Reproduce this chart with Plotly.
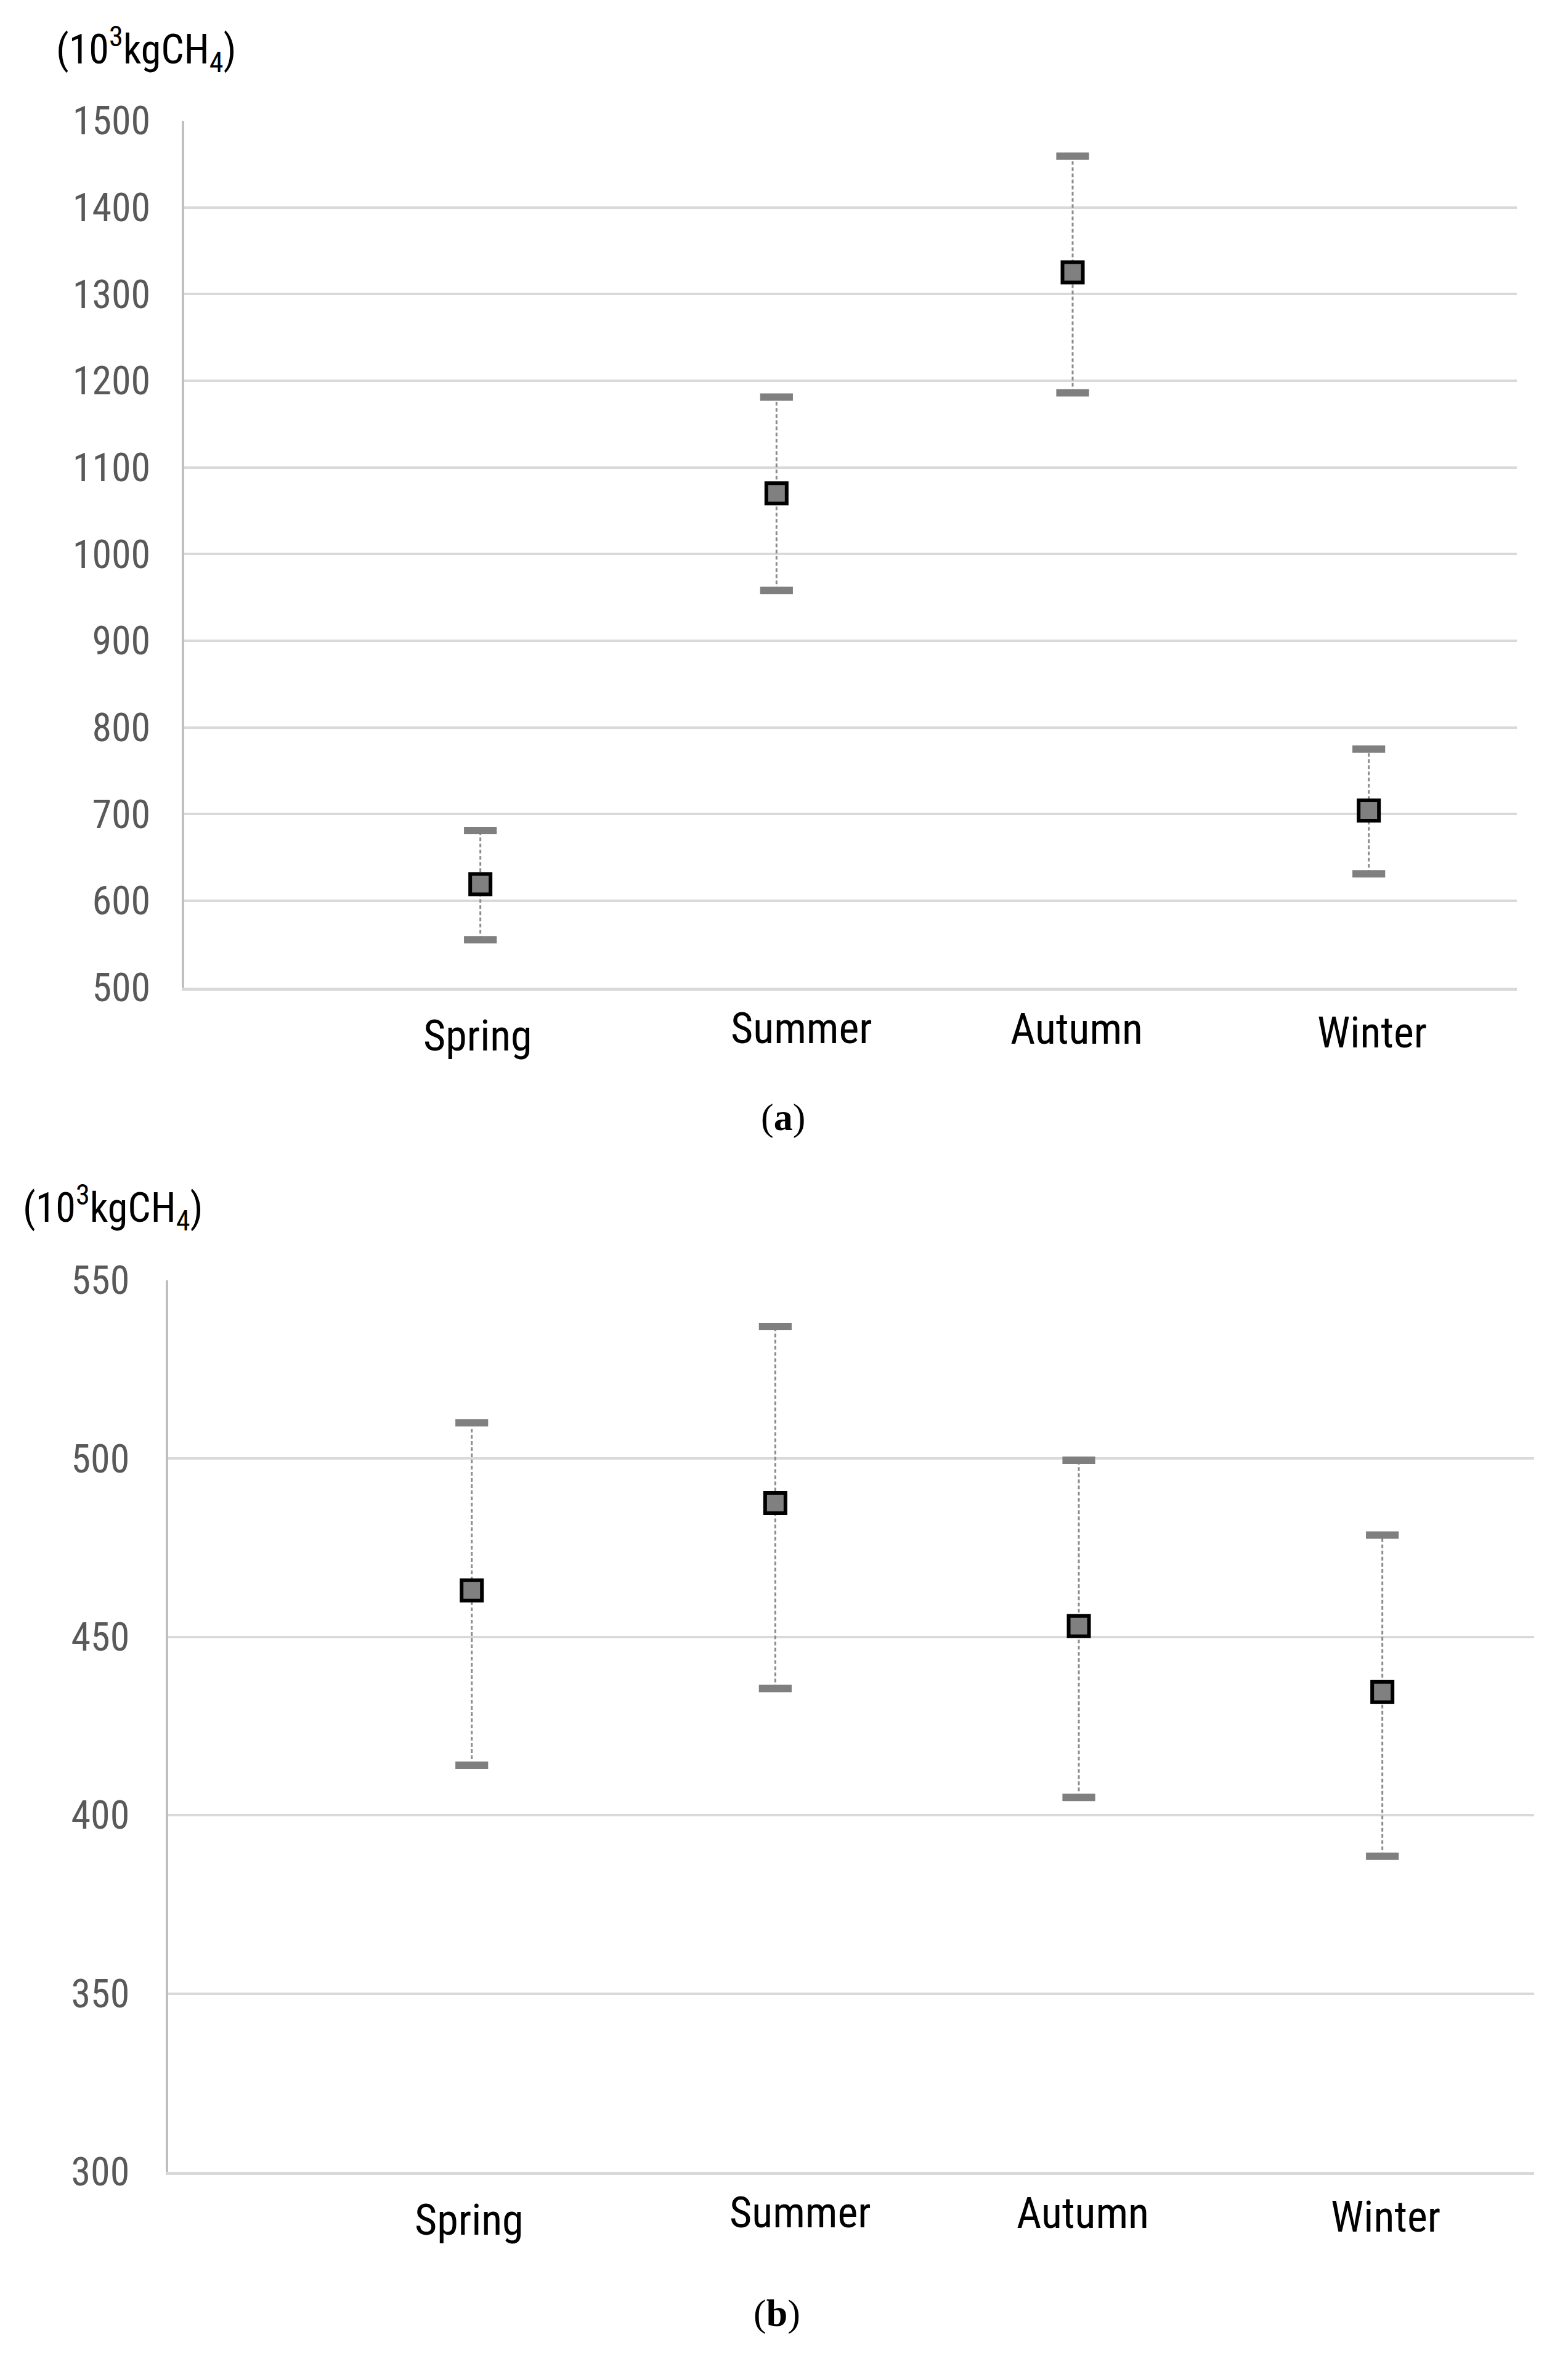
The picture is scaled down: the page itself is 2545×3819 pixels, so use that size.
import plotly.graph_objects as go

# ---------------- data ----------------
categories = ["Spring", "Summer", "Autumn", "Winter"]

a_mean = [619, 1070, 1325, 704]
a_upper = [681, 1181, 1459, 775]
a_lower = [555, 958, 1186, 631]

b_mean = [463, 487.5, 453, 434.5]
b_upper = [510, 537, 499.5, 478.5]
b_lower = [414, 435.5, 405, 388.5]

a_ticks = [500, 600, 700, 800, 900, 1000, 1100, 1200, 1300, 1400, 1500]
b_ticks = [300, 350, 400, 450, 500, 550]

unit_label = "(10<sup>3</sup>kgCH<sub>4</sub>)"
panel_labels = ["(<b>a</b>)", "(<b>b</b>)"]

# ---------------- style ----------------
W, H = 2545, 3819
NARROW = "Liberation Sans Narrow, Arial Narrow, Roboto Condensed, Liberation Sans, sans-serif"
SERIF = "Liberation Serif, Times New Roman, serif"
GRID = "#d9d9d9"
AXIS = "#bfbfbf"
ERR = "#8c8c8c"
CAP = "#7f7f7f"

fig = go.Figure()


def add_panel(mean, upper, lower, xa, ya):
    ex, ey = [], []
    for c, lo, hi in zip(categories, lower, upper):
        ex += [c, c, None]
        ey += [lo, hi, None]
    fig.add_trace(go.Scatter(
        x=ex, y=ey, mode="lines", xaxis=xa, yaxis=ya,
        line=dict(color=ERR, width=3, dash="6px,4px"), hoverinfo="skip"))
    fig.add_trace(go.Scatter(
        x=categories + categories, y=upper + lower, mode="markers",
        xaxis=xa, yaxis=ya,
        marker=dict(symbol="line-ew", size=38, color=CAP,
                    line=dict(color=CAP, width=12))))
    fig.add_trace(go.Scatter(
        x=categories, y=mean, mode="markers", xaxis=xa, yaxis=ya,
        marker=dict(symbol="square", size=33, color="#808080",
                    line=dict(color="#000000", width=6))))


add_panel(a_mean, a_upper, a_lower, "x", "y")
add_panel(b_mean, b_upper, b_lower, "x2", "y2")

xcommon = dict(type="category", categoryorder="array", categoryarray=categories,
               range=[-1, 3.5], showgrid=False, showticklabels=False, ticks="",
               showline=True, linecolor=GRID, linewidth=5, zeroline=False,
               fixedrange=True)
ycommon = dict(showgrid=True, gridcolor=GRID, gridwidth=4, showline=True,
               linecolor=AXIS, linewidth=4, ticks="", zeroline=False,
               tickfont=dict(family=NARROW, size=64, color="#595959"),
               fixedrange=True)

top_dom = [0.5840, 0.9597]
bot_dom = [0.0705, 0.4571]
DX = -6 / W

fig.update_layout(
    width=W, height=H,
    margin=dict(l=0, r=0, t=0, b=0),
    paper_bgcolor="white", plot_bgcolor="white",
    showlegend=False,
    xaxis=dict(domain=[0.1167 + DX, 0.9666 + DX], anchor="y", **xcommon),
    yaxis=dict(domain=top_dom, anchor="x", range=[500, 1500],
               tickvals=a_ticks, ticklabelstandoff=38, **ycommon),
    xaxis2=dict(domain=[0.1065 + DX, 0.9776 + DX], anchor="y2", **xcommon),
    yaxis2=dict(domain=bot_dom, anchor="x2", range=[300, 550],
                tickvals=b_ticks, ticklabelstandoff=46, **ycommon),
)

annotations = []
# unit titles
annotations.append(dict(text=unit_label, x=81 / W, y=1 - 36 / H, xref="paper",
                        yref="paper", xanchor="left", yanchor="middle",
                        showarrow=False, font=dict(family=NARROW, size=66, color="black")))
annotations.append(dict(text=unit_label, x=27 / W, y=1 - 1953 / H, xref="paper",
                        yref="paper", xanchor="left", yanchor="middle",
                        showarrow=False, font=dict(family=NARROW, size=66, color="black")))

# category labels (hand-placed in the original figure)
label_dx = [-4, 41, 6, 5]
label_dy = [-78, -66, -67, -73]
for xr, dom in (("x", top_dom), ("x2", bot_dom)):
    for i, c in enumerate(categories):
        annotations.append(dict(text=c, x=i, xref=xr, y=dom[0], yref="paper",
                                xanchor="center", yanchor="middle",
                                xshift=label_dx[i], yshift=label_dy[i],
                                showarrow=False,
                                font=dict(family=NARROW, size=70, color="black")))

# panel labels
annotations.append(dict(text=panel_labels[0], x=1263 / W, y=1 - 1804 / H,
                        xref="paper", yref="paper", showarrow=False,
                        xanchor="center", yanchor="middle",
                        font=dict(family=SERIF, size=62, color="black")))
annotations.append(dict(text=panel_labels[1], x=1253 / W, y=1 - 3784 / H,
                        xref="paper", yref="paper", showarrow=False,
                        xanchor="center", yanchor="middle",
                        font=dict(family=SERIF, size=62, color="black")))

fig.update_layout(annotations=annotations)

fig.write_html("out.html")
